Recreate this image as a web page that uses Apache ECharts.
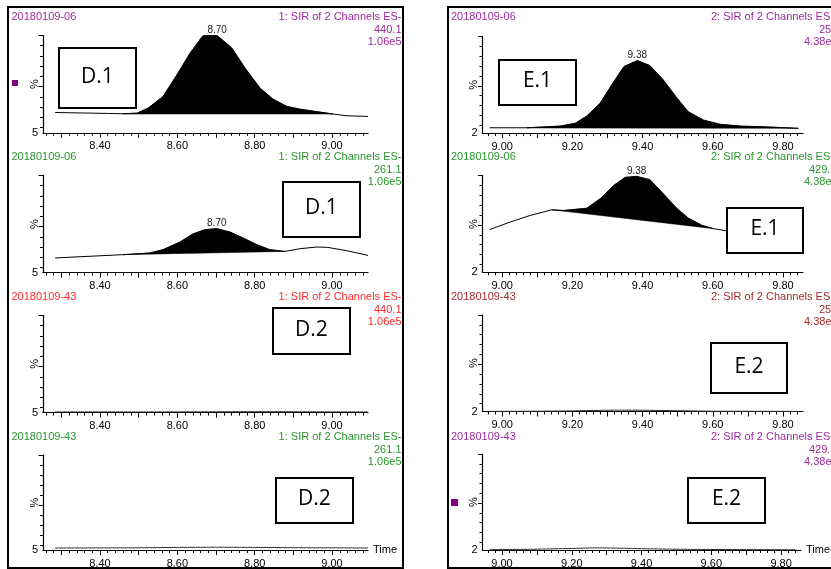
<!DOCTYPE html>
<html><head><meta charset="utf-8">
<script src="https://cdn.jsdelivr.net/npm/echarts@6/dist/echarts.min.js"></script>
<style>html,body{margin:0;padding:0;background:#fff;overflow:hidden}#c{width:831px;height:569px}</style>
</head><body><div id="c"></div>
<script>
// ---------------- data ----------------
const sampleNames = ['20180109-06', '20180109-06', '20180109-43', '20180109-43'];
const leftChannel = ['1: SIR of 2 Channels ES-', '1: SIR of 2 Channels ES-', '1: SIR of 2 Channels ES-', '1: SIR of 2 Channels ES-'];
const leftMass = ['440.1', '261.1', '440.1', '261.1'];
const leftScale = ['1.06e5', '1.06e5', '1.06e5', '1.06e5'];
// right column header texts are cut by the picture edge: visible parts only
const rightChannel = ['2: SIR of 2 Channels ES', '2: SIR of 2 Channels ES', '2: SIR of 2 Channels ES', '2: SIR of 2 Channels ES'];
const rightMass = ['25', '429.', '25', '429.'];
const rightScale = ['4.38e', '4.38e', '4.38e', '4.38e'];
const leftBoxLabels = ['D.1', 'D.1', 'D.2', 'D.2'];
const rightBoxLabels = ['E.1', 'E.1', 'E.2', 'E.2'];

const leftXLabels = [8.40, 8.60, 8.80, 9.00];
const rightXLabels = [9.00, 9.20, 9.40, 9.60, 9.80];
const leftXMajorTicks = [8.3, 8.4, 8.5, 8.6, 8.7, 8.8, 8.9, 9.0];
const rightXMajorTicks = [9.0, 9.1, 9.2, 9.3, 9.4, 9.5, 9.6, 9.7, 9.8];
const yMinorTicks = [10, 20, 30, 40, 60, 70, 80, 90];
const yMajorTicks = [50, 100];
const leftYLabels = [5];
const rightYLabels = [2];

// D.1  SIR 440.1
const d1a_t = [8.284, 8.350, 8.420, 8.459, 8.496, 8.524, 8.563, 8.599, 8.633, 8.666, 8.703, 8.741, 8.775, 8.814, 8.847, 8.884, 8.917, 8.969, 9.003, 9.039, 9.093];
const d1a_v = [24.8, 24.4, 23.9, 23.6, 24.2, 29.0, 40.4, 61.6, 82.8, 99.7, 100, 87.7, 68.2, 48.6, 37.9, 30.7, 28.1, 25.2, 23.3, 21.6, 21.0];
const d1a_base = [[8.459, 23.3], [9.003, 23.3]];
// D.1  SIR 261.1
const d1b_t = [8.284, 8.459, 8.528, 8.563, 8.607, 8.640, 8.671, 8.702, 8.736, 8.770, 8.806, 8.839, 8.878, 8.917, 8.961, 8.989, 9.038, 9.093];
const d1b_v = [19.4, 22.6, 24.2, 27.5, 35.0, 42.8, 47.0, 48.0, 44.7, 38.9, 32.3, 27.5, 25.8, 28.4, 30.1, 29.7, 26.5, 21.9];
const d1b_base = [[8.459, 22.6], [8.878, 25.8]];
// D.2  SIR 440.1
const d2a_t = [8.284, 8.40, 8.50, 8.60, 8.70, 8.80, 8.90, 9.00, 9.093];
const d2a_v = [5.6, 5.7, 5.6, 5.7, 5.8, 5.9, 5.8, 5.7, 5.6];
// D.2  SIR 261.1
const d2b_t = [8.284, 8.40, 8.50, 8.60, 8.70, 8.80, 8.90, 9.00, 9.093];
const d2b_v = [7.0, 7.1, 7.2, 7.6, 7.8, 7.6, 7.3, 7.2, 7.0];

// E.1  channel 2 (upper)
const e1a_t = [8.964, 9.070, 9.165, 9.208, 9.241, 9.279, 9.312, 9.347, 9.385, 9.421, 9.459, 9.497, 9.530, 9.573, 9.621, 9.678, 9.744, 9.811, 9.844];
const e1a_v = [7.4, 7.4, 9.1, 11.9, 19.3, 32.2, 50.8, 69.5, 75.6, 70.5, 55.9, 37.9, 23.7, 15.2, 10.9, 9.1, 8.4, 7.4, 6.8];
const e1a_base = [[9.070, 7.2], [9.844, 6.8]];
// E.1  channel 2 (429.)
const e1b_t = [8.964, 9.023, 9.080, 9.141, 9.175, 9.241, 9.279, 9.317, 9.350, 9.383, 9.421, 9.459, 9.497, 9.530, 9.569, 9.602, 9.635, 9.670];
const e1b_v = [45.3, 53.0, 59.7, 65.4, 64.7, 67.0, 76.5, 89.9, 98.3, 99.3, 96.0, 81.6, 67.0, 57.0, 49.6, 46.3, 44.3, 43.0];
const e1b_base = [[9.141, 65.4], [9.602, 46.3]];
// E.2
const e2a_t = [8.964, 9.10, 9.20, 9.25, 9.32, 9.40, 9.50, 9.60, 9.844];
const e2a_v = [2.1, 2.3, 2.6, 3.0, 3.4, 3.3, 2.8, 2.3, 2.1];
const e2b_t = [8.964, 9.10, 9.20, 9.27, 9.35, 9.45, 9.55, 9.70, 9.844];
const e2b_v = [2.3, 2.8, 3.6, 4.2, 3.8, 3.0, 2.6, 2.4, 2.2];

const peakLabelsLeft = ['8.70', '8.70', null, null];
const peakLabelsRight = ['9.38', '9.38', null, null];

// ---------------- styling ----------------
const PURPLE = '#9e2a9e', GREEN = '#27962a', RED = '#ff2a2a', DKRED = '#a52a2a';
const leftColors = [PURPLE, GREEN, RED, GREEN];
const rightColors = [PURPLE, GREEN, DKRED, PURPLE];
const FONT = '"Liberation Sans", Arial, sans-serif';
const BOXFONT = '"Open Sans", "Noto Sans", sans-serif';

const leftMinorTicks = []; for (let k = 413; k <= 454; k++) leftMinorTicks.push(k / 50);
const rightMinorTicks = []; for (let k = 448; k <= 492; k++) rightMinorTicks.push(k / 50);

const panels = [
  {col: 0, row: 0, t: d1a_t, v: d1a_v, base: d1a_base, peak: peakLabelsLeft[0]},
  {col: 0, row: 1, t: d1b_t, v: d1b_v, base: d1b_base, peak: peakLabelsLeft[1]},
  {col: 0, row: 2, t: d2a_t, v: d2a_v, base: null, peak: null},
  {col: 0, row: 3, t: d2b_t, v: d2b_v, base: null, peak: null},
  {col: 1, row: 0, t: e1a_t, v: e1a_v, base: e1a_base, peak: peakLabelsRight[0]},
  {col: 1, row: 1, t: e1b_t, v: e1b_v, base: e1b_base, peak: peakLabelsRight[1]},
  {col: 1, row: 2, t: e2a_t, v: e2a_v, base: null, peak: null},
  {col: 1, row: 3, t: e2b_t, v: e2b_v, base: null, peak: null}
];

const grid = [], xAxis = [], yAxis = [], series = [];
const axisLineStyle = {color: '#000', width: 1.2};
const tickStyle = {color: '#000', width: 1};

panels.forEach((p, i) => {
  const L = p.col === 0;
  grid.push(L ? {left: 43, top: 35.5 + 139.9 * p.row, width: 325, height: 97.3}
              : {left: 482.5, top: 36.5 + 139.2 * p.row, width: 320.5, height: 96.6});
  const xmin = L ? 8.2526 : 8.944, xmax = L ? 9.093 : 9.857;
  const ymin = L ? 5 : 2;
  const last = p.row === 3;
  xAxis.push({
    type: 'value', gridIndex: i, min: xmin, max: xmax, position: 'bottom',
    axisLine: {show: true, onZero: false, lineStyle: axisLineStyle},
    axisTick: {show: true, customValues: L ? leftMinorTicks : rightMinorTicks, length: 3, lineStyle: tickStyle},
    axisLabel: {show: true, customValues: L ? leftXLabels : rightXLabels, formatter: v => v.toFixed(2),
      margin: 8, fontSize: 11, color: '#000', fontFamily: FONT},
    splitLine: {show: false},
    name: last ? 'Time' : '', nameLocation: 'end', nameGap: 5, nameMoveOverlap: false,
    nameTextStyle: {fontSize: 11, color: '#000', fontFamily: FONT, verticalAlign: 'middle'}
  });
  xAxis.push({
    type: 'value', gridIndex: i, min: xmin, max: xmax, position: 'bottom',
    axisLine: {show: false, onZero: false},
    axisTick: {show: true, customValues: L ? leftXMajorTicks : rightXMajorTicks, length: 5, lineStyle: tickStyle},
    axisLabel: {show: false}, splitLine: {show: false}
  });
  yAxis.push({
    type: 'value', gridIndex: i, min: ymin, max: 100, position: 'left',
    axisLine: {show: true, onZero: false, lineStyle: axisLineStyle},
    axisTick: {show: true, customValues: yMinorTicks, length: 3, lineStyle: tickStyle},
    axisLabel: {show: true, customValues: L ? leftYLabels : rightYLabels, margin: 5, fontSize: 11, color: '#000', fontFamily: FONT},
    splitLine: {show: false},
    name: '%', nameLocation: 'middle', nameRotate: 90, nameGap: 3, nameMoveOverlap: false,
    nameTextStyle: {fontSize: 11, color: '#000', fontFamily: FONT}
  });
  yAxis.push({
    type: 'value', gridIndex: i, min: ymin, max: 100, position: 'left',
    axisLine: {show: false, onZero: false},
    axisTick: {show: true, customValues: yMajorTicks, length: 4.5, lineStyle: tickStyle},
    axisLabel: {show: false}, splitLine: {show: false}
  });
  const xi = 2 * i, yi = 2 * i;
  if (p.base) {
    const T = p.t, V = p.v, B = p.base;
    series.push({
      type: 'custom', xAxisIndex: xi, yAxisIndex: yi, z: 2, silent: true,
      data: B, encode: {x: 0, y: 1}, clip: true,
      renderItem: function (params, api) {
        if (params.dataIndex !== 0) return null;
        const pts = [];
        for (let k = 0; k < T.length; k++) {
          if (T[k] >= B[0][0] - 1e-9 && T[k] <= B[1][0] + 1e-9) pts.push(api.coord([T[k], V[k]]));
        }
        pts.push(api.coord(B[1]));
        pts.push(api.coord(B[0]));
        return {type: 'polygon', shape: {points: pts}, style: {fill: '#000', stroke: '#000', lineWidth: 0.5}};
      }
    });
  }
  const data = p.t.map((t, k) => [t, p.v[k]]);
  const s = {
    type: 'line', xAxisIndex: xi, yAxisIndex: yi, data: data, symbol: 'none', z: 3, silent: true,
    lineStyle: {color: p.base ? '#000' : '#333', width: 1}, animation: false
  };
  if (p.peak) {
    let mk = 0; p.v.forEach((v, k) => { if (v > p.v[mk]) mk = k; });
    s.markPoint = {
      symbol: 'circle', symbolSize: 0, silent: true, animation: false,
      data: [{coord: [p.t[mk], p.v[mk]]}],
      label: {show: true, position: 'top', distance: 0, formatter: p.peak, color: '#222', fontSize: 10, fontFamily: FONT}
    };
  }
  series.push(s);
});

// ---------------- decorations ----------------
const graphic = [];
graphic.push({type: 'rect', z: 0, shape: {x: 8, y: 7, width: 395, height: 561}, style: {fill: 'none', stroke: '#000', lineWidth: 2}});
graphic.push({type: 'rect', z: 0, shape: {x: 448, y: 7, width: 400, height: 561}, style: {fill: 'none', stroke: '#000', lineWidth: 2}});

const rowTextY = [17, 157.3, 297.3, 437.3];
for (let r = 0; r < 4; r++) {
  const y0 = rowTextY[r], dy = 12.5;
  const txt = (text, x, y, color, align) => graphic.push({type: 'text', z: 10, x: x, y: y,
    style: {text: text, fill: color, fontSize: 11, fontFamily: FONT, align: align, verticalAlign: 'middle'}});
  txt(sampleNames[r], 11.5, y0, leftColors[r], 'left');
  txt(leftChannel[r], 401.5, y0, leftColors[r], 'right');
  txt(leftMass[r], 401.5, y0 + dy, leftColors[r], 'right');
  txt(leftScale[r], 401.5, y0 + 2 * dy, leftColors[r], 'right');
  txt(sampleNames[r], 451, y0, rightColors[r], 'left');
  txt(rightChannel[r], 711, y0, rightColors[r], 'left');
  txt(rightMass[r], r % 2 === 0 ? 819 : 809, y0 + dy, rightColors[r], 'left');
  txt(rightScale[r], 804, y0 + 2 * dy, rightColors[r], 'left');
}

const boxes = [
  [59, 48, 77, 60, leftBoxLabels[0]], [283, 182, 77, 55, leftBoxLabels[1]],
  [273, 308, 77, 46, leftBoxLabels[2]], [276, 478, 77, 45, leftBoxLabels[3]],
  [499, 60, 77, 45, rightBoxLabels[0]], [727, 208, 76, 45, rightBoxLabels[1]],
  [711, 343, 76, 50, rightBoxLabels[2]], [688, 478, 77, 45, rightBoxLabels[3]]
];
boxes.forEach(b => {
  graphic.push({type: 'rect', z: 20, shape: {x: b[0], y: b[1], width: b[2], height: b[3]},
    style: {fill: '#fff', stroke: '#000', lineWidth: 2}});
  graphic.push({type: 'text', z: 21, x: b[0] + b[2] / 2, y: b[1] + b[3] / 2 - 1,
    style: {text: b[4], fill: '#000', fontSize: 21, fontFamily: BOXFONT, align: 'center', verticalAlign: 'middle'}});
});
graphic.push({type: 'rect', z: 10, shape: {x: 12, y: 80, width: 6, height: 6}, style: {fill: '#800080'}});
graphic.push({type: 'rect', z: 10, shape: {x: 451, y: 499, width: 7, height: 7}, style: {fill: '#800080'}});

const chart = echarts.init(document.getElementById('c'), null, {renderer: 'canvas'});
chart.setOption({
  animation: false,
  backgroundColor: '#fff',
  grid: grid, xAxis: xAxis, yAxis: yAxis, series: series, graphic: graphic
});
</script>
</body></html>
